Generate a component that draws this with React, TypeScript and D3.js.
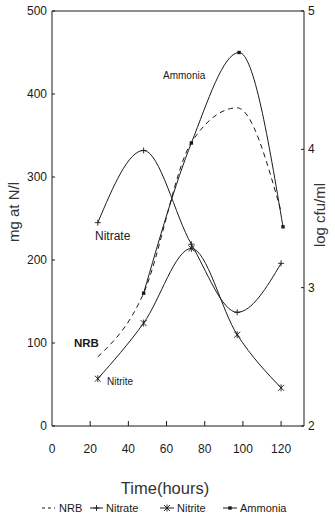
import React from "react";
import * as d3 from "d3";

const times = [24, 48, 73, 97, 120];
const nitrate = [245, 332, 219, 137, 196];
const nitrite = [57, 124, 214, 110, 46];
const ammoniaTimes = [48, 73, 98, 121];
const ammonia = [160, 341, 450, 240];
const nrb = [2.5, 2.96, 4.05, 4.3, 3.55];

const xTicks = [0, 20, 40, 60, 80, 100, 120];
const yLeftTicks = [0, 100, 200, 300, 400, 500];
const yRightTicks = [2, 3, 4, 5];

const FONT = "'Liberation Sans', Arial, sans-serif";
const INK = "#1a1a1a";

export default function App() {
  const W = 335, H = 516;
  const x = d3.scaleLinear().domain([0, 132]).range([52, 304]);
  const yL = d3.scaleLinear().domain([0, 500]).range([426, 11]);
  const yR = d3.scaleLinear().domain([2, 5]).range([426, 11]);
  const curve = d3.curveMonotoneX;

  const lineL = d3.line<[number, number]>().x(d => x(d[0])).y(d => yL(d[1])).curve(curve);
  const lineR = d3.line<[number, number]>().x(d => x(d[0])).y(d => yR(d[1])).curve(curve);

  const nitrateData = times.map((t, i) => [t, nitrate[i]] as [number, number]);
  const nitriteData = times.map((t, i) => [t, nitrite[i]] as [number, number]);
  const ammoniaData = ammoniaTimes.map((t, i) => [t, ammonia[i]] as [number, number]);
  const nrbData = times.map((t, i) => [t, nrb[i]] as [number, number]);

  const plus = (cx: number, cy: number, k: string) => (
    <g key={k} stroke={INK} strokeWidth={0.9}>
      <line x1={cx - 3} x2={cx + 3} y1={cy} y2={cy} />
      <line x1={cx} x2={cx} y1={cy - 3} y2={cy + 3} />
    </g>
  );
  const star = (cx: number, cy: number, k: string) => (
    <g key={k} stroke={INK} strokeWidth={0.9}>
      <line x1={cx - 3} x2={cx + 3} y1={cy - 3} y2={cy + 3} />
      <line x1={cx - 3} x2={cx + 3} y1={cy + 3} y2={cy - 3} />
      <line x1={cx} x2={cx} y1={cy - 3.5} y2={cy + 3.5} />
    </g>
  );
  const sq = (cx: number, cy: number, k: string) => (
    <rect key={k} x={cx - 1.7} y={cy - 1.7} width={3.4} height={3.4} fill={INK} />
  );

  const legendY = 508;

  return (
    <svg width={W} height={H} style={{ position: "absolute", left: 0, top: 0, background: "#fff" }}
      fontFamily={FONT}>
      <rect x={0} y={0} width={W} height={H} fill="#fff" />
      <g stroke={INK} strokeWidth={1} fill="none">
        <line x1={x(0)} x2={x(0)} y1={yL(0)} y2={yL(500)} />
        <line x1={x(0)} x2={x(132)} y1={yL(500)} y2={yL(500)} />
        <line x1={x(132)} x2={x(132)} y1={yL(0)} y2={yL(500)} />
        <line x1={x(0)} x2={x(132)} y1={yL(0)} y2={yL(0)} />
      </g>
      {xTicks.map(t => (
        <g key={"xt" + t}>
          {t > 0 && <line x1={x(t)} x2={x(t)} y1={yL(0)} y2={yL(0) - 5} stroke={INK} strokeWidth={1} />}
          <text x={x(t)} y={449} textAnchor="middle" dominantBaseline="central" fontSize={12} fill={INK}>{t}</text>
        </g>
      ))}
      {yLeftTicks.map(v => (
        <g key={"yl" + v}>
          <line x1={x(0)} x2={x(0) + 3} y1={yL(v)} y2={yL(v)} stroke={INK} strokeWidth={1} />
          <text x={47} y={yL(v)} textAnchor="end" dominantBaseline="central" fontSize={12} fill={INK}>{v}</text>
        </g>
      ))}
      {yRightTicks.map(v => (
        <g key={"yr" + v}>
          <line x1={x(132)} x2={x(132) - 3} y1={yR(v)} y2={yR(v)} stroke={INK} strokeWidth={1} />
          <text x={308} y={yR(v)} textAnchor="start" dominantBaseline="central" fontSize={12} fill={INK}>{v}</text>
        </g>
      ))}
      <text transform="translate(13,212) rotate(-90)" textAnchor="middle" dominantBaseline="central" fontSize={15} fill="#333">mg at N/l</text>
      <text transform="translate(319,215) rotate(-90)" textAnchor="middle" dominantBaseline="central" fontSize={15} fill="#333">log cfu/ml</text>
      <text x={165} y={488} textAnchor="middle" dominantBaseline="central" fontSize={16.5} fill="#333">Time(hours)</text>

      <path d={lineR(nrbData) || ""} fill="none" stroke={INK} strokeWidth={1} strokeDasharray="5,4" />
      <path d={lineL(nitrateData) || ""} fill="none" stroke={INK} strokeWidth={1} />
      <path d={lineL(nitriteData) || ""} fill="none" stroke={INK} strokeWidth={1} />
      <path d={lineL(ammoniaData) || ""} fill="none" stroke={INK} strokeWidth={1} />
      {nitrateData.map((d, i) => plus(x(d[0]), yL(d[1]), "np" + i))}
      {nitriteData.map((d, i) => star(x(d[0]), yL(d[1]), "ns" + i))}
      {ammoniaData.map((d, i) => sq(x(d[0]), yL(d[1]), "as" + i))}

      <text x={163} y={75} dominantBaseline="central" fontSize={10} fill={INK}>Ammonia</text>
      <text x={95} y={236} dominantBaseline="central" fontSize={12} fill={INK}>Nitrate</text>
      <text x={74} y={343} dominantBaseline="central" fontSize={11.5} fontWeight="bold" fill={INK}>NRB</text>
      <text x={107} y={381} dominantBaseline="central" fontSize={10} fill={INK}>Nitrite</text>

      <g fontSize={11} fill={INK}>
        <line x1={42} x2={55} y1={legendY} y2={legendY} stroke={INK} strokeWidth={1} strokeDasharray="3,3" />
        <text x={59} y={legendY} dominantBaseline="central">NRB</text>
        <line x1={90} x2={103} y1={legendY} y2={legendY} stroke={INK} strokeWidth={1} />
        {plus(96.5, legendY, "lp")}
        <text x={106} y={legendY} dominantBaseline="central">Nitrate</text>
        <line x1={160} x2={174} y1={legendY} y2={legendY} stroke={INK} strokeWidth={1} />
        {star(167, legendY, "ls")}
        <text x={177} y={legendY} dominantBaseline="central">Nitrite</text>
        <line x1={223} x2={237} y1={legendY} y2={legendY} stroke={INK} strokeWidth={1} />
        {sq(230, legendY, "la")}
        <text x={240} y={legendY} dominantBaseline="central">Ammonia</text>
      </g>
    </svg>
  );
}
